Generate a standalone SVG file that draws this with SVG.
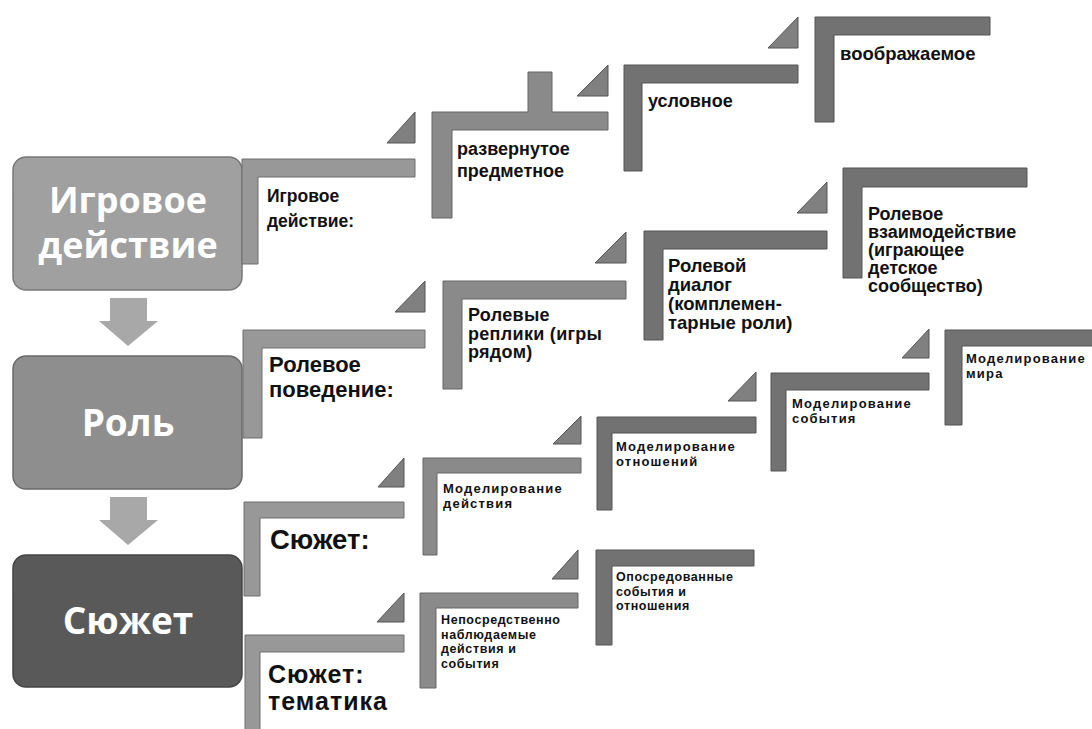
<svg xmlns="http://www.w3.org/2000/svg" width="1092" height="729" viewBox="0 0 1092 729">
<style>
.box1{fill:#a0a0a0;stroke:#787878;stroke-width:1.5}
.box2{fill:#8e8e8e;stroke:#6a6a6a;stroke-width:1.5}
.box3{fill:#595959;stroke:#444;stroke-width:1.5}
.bt{font-family:"Open Sans","DejaVu Sans",sans-serif;font-weight:700;fill:#fff;text-anchor:middle}
.l0{fill:#989898;stroke:#6e6e6e;stroke-width:1}
.l1{fill:#8a8a8a;stroke:#666;stroke-width:1}
.l2{fill:#727272;stroke:#555;stroke-width:1}
.tri{fill:#808080;stroke:#555;stroke-width:1}
.arr{fill:#a8a8a8}
.t{font-family:"Liberation Sans",Arial,sans-serif;font-weight:700;fill:#111}
.sm{font-size:13px;letter-spacing:1.2px}
.xs{font-size:12.5px;letter-spacing:0.6px}
</style>
<rect width="1092" height="729" fill="#fff"/>
<g id="connectors">
<polygon class="arr" points="110,298 147,298 147,321 158,321 128,346 99,321 110,321"/>
<polygon class="arr" points="110,497 147,497 147,520 158,520 128,545 99,520 110,520"/>
<polygon class="tri" points="387,143 415,143 415,112"/>
<polygon class="tri" points="577,96 608,96 608,65"/>
<polygon class="tri" points="768,48 798,48 798,17"/>
<polygon class="tri" points="395,312 425,312 425,281"/>
<polygon class="tri" points="595,263 626,263 626,232"/>
<polygon class="tri" points="797,213 827,213 827,182"/>
<polygon class="tri" points="378,487 404,487 404,458"/>
<polygon class="tri" points="553,444 581,444 581,416"/>
<polygon class="tri" points="728,401 756,401 756,372"/>
<polygon class="tri" points="902,358 929,358 929,329"/>
<polygon class="tri" points="377,622 404,622 404,593"/>
<polygon class="tri" points="552,579 578,579 578,550"/>
</g>
<g id="box-igrovoe">
<rect class="box1" x="13" y="157" width="229" height="133" rx="13"/>
<text class="bt" font-size="36" x="128" y="213"><tspan x="128">Игровое</tspan><tspan x="128" dy="45">действие</tspan></text>
</g>
<g id="box-rol">
<rect class="box2" x="13" y="356" width="229" height="133" rx="13"/>
<text class="bt" font-size="37" x="128" y="436">Роль</text>
</g>
<g id="box-syuzhet">
<rect class="box3" x="13" y="555" width="229" height="132" rx="13"/>
<text class="bt" font-size="37" x="128" y="634">Сюжет</text>
</g>
<g id="b-igr">
<path class="l0" d="M242,159H415V177H258V264H242Z"/>
<text class="t" font-size="17.5" x="267" y="202"><tspan x="267">Игровое</tspan><tspan x="267" dy="25">действие:</tspan></text>
</g>
<g id="b-razv">
<path class="l1" d="M432,112H528V72H552V112H608V130H452V218H432Z"/>
<text class="t" font-size="18" x="457" y="155"><tspan x="457">развернутое</tspan><tspan x="457" dy="22">предметное</tspan></text>
</g>
<g id="b-usl">
<path class="l2" d="M624,65H798V83H642V171H624Z"/>
<text class="t" font-size="18" x="648" y="107">условное</text>
</g>
<g id="b-voob">
<path class="l2" d="M815,17H990V35H834V122H815Z"/>
<text class="t" font-size="18.5" x="840" y="60">воображаемое</text>
</g>
<g id="b-rolpov">
<path class="l0" d="M243,330H425V348H262V438H243Z"/>
<text class="t" font-size="22" x="269" y="372"><tspan x="269">Ролевое</tspan><tspan x="269" dy="25">поведение:</tspan></text>
</g>
<g id="b-rolrep">
<path class="l1" d="M443,281H626V299H462V389H443Z"/>
<text class="t" font-size="18" letter-spacing="0.3" x="468" y="321"><tspan x="468">Ролевые</tspan><tspan x="468" dy="18.5">реплики (игры</tspan><tspan x="468" dy="18.5">рядом)</tspan></text>
</g>
<g id="b-roldia">
<path class="l2" d="M644,231H827V249H663V340H644Z"/>
<text class="t" font-size="18.5" x="668" y="272"><tspan x="668">Ролевой</tspan><tspan x="668" dy="19">диалог</tspan><tspan x="668" dy="19">(комплемен-</tspan><tspan x="668" dy="19">тарные роли)</tspan></text>
</g>
<g id="b-rolvz">
<path class="l2" d="M843,168H1027V187H862V278H843Z"/>
<text class="t" font-size="18" x="868" y="220"><tspan x="868">Ролевое</tspan><tspan x="868" dy="18">взаимодействие</tspan><tspan x="868" dy="18">(играющее</tspan><tspan x="868" dy="18">детское</tspan><tspan x="868" dy="18">сообщество)</tspan></text>
</g>
<g id="b-syuzhet">
<path class="l0" d="M244,502H404V518H260V596H244Z"/>
<text class="t" font-size="27.5" x="270" y="549">Сюжет:</text>
</g>
<g id="b-md">
<path class="l1" d="M423,458H581V473H437V555H423Z"/>
<text class="t sm" x="443" y="493"><tspan x="443">Моделирование</tspan><tspan x="443" dy="14.5">действия</tspan></text>
</g>
<g id="b-mo">
<path class="l2" d="M597,417H756V433H612V510H597Z"/>
<text class="t sm" x="616" y="451"><tspan x="616">Моделирование</tspan><tspan x="616" dy="15">отношений</tspan></text>
</g>
<g id="b-ms">
<path class="l2" d="M771,373H929V390H786V471H771Z"/>
<text class="t sm" x="792" y="408"><tspan x="792">Моделирование</tspan><tspan x="792" dy="14.5">события</tspan></text>
</g>
<g id="b-mm">
<path class="l2" d="M945,330H1100V346H962V425H945Z"/>
<text class="t sm" x="966" y="363"><tspan x="966">Моделирование</tspan><tspan x="966" dy="14.5">мира</tspan></text>
</g>
<g id="b-tem">
<path class="l0" d="M245,635H404V652H260V740H245Z"/>
<text class="t" font-size="25" letter-spacing="1" x="268" y="683"><tspan x="268">Сюжет:</tspan><tspan x="268" dy="27">тематика</tspan></text>
</g>
<g id="b-np">
<path class="l1" d="M420,593H578V608H436V688H420Z"/>
<text class="t xs" x="441" y="624"><tspan x="441">Непосредственно</tspan><tspan x="441" dy="14.5">наблюдаемые</tspan><tspan x="441" dy="14.5">действия и</tspan><tspan x="441" dy="14.5">события</tspan></text>
</g>
<g id="b-op">
<path class="l2" d="M596,550H754V566H612V645H596Z"/>
<text class="t xs" x="616" y="581"><tspan x="616">Опосредованные</tspan><tspan x="616" dy="14.5">события и</tspan><tspan x="616" dy="14.5">отношения</tspan></text>
</g>
</svg>
